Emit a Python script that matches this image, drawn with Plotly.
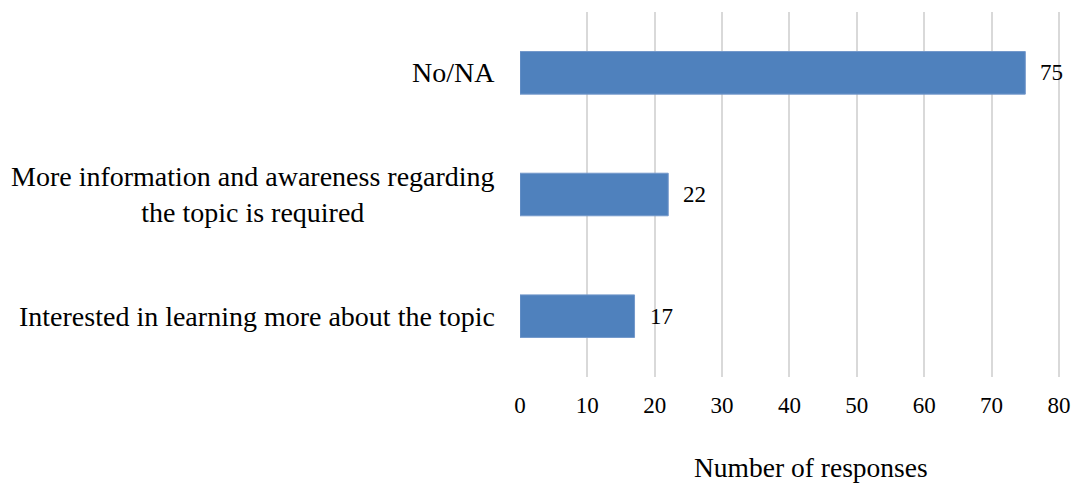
import plotly.graph_objects as go

categories = [
    "Interested in learning more about the topic",
    "More information and awareness regarding<br>the topic is required",
    "No/NA",
]
values = [17, 22, 75]
x_ticks = [0, 10, 20, 30, 40, 50, 60, 70, 80]
x_title = "Number of responses"

FONT = "Liberation Serif, Times New Roman, serif"
fig = go.Figure()
fig.add_trace(go.Bar(
    y=list(range(len(categories))),
    x=values,
    orientation="h",
    marker=dict(color="#4f81bd", line=dict(color="#7398cb", width=1)),
    width=0.35,
    hoverinfo="skip",
))

# category labels (centered multi-line)
for i, c in enumerate(categories):
    fig.add_annotation(x=0, xref="x", y=i, yref="y", text=c, showarrow=False,
                       xanchor="right", yanchor="middle", align="center",
                       xshift=-23, font=dict(family=FONT, size=28, color="#000"))
# value labels
for i, v in enumerate(values):
    fig.add_annotation(x=v, xref="x", y=i, yref="y", text=str(v), showarrow=False,
                       xanchor="left", yanchor="middle", xshift=13,
                       font=dict(family=FONT, size=23, color="#000"))

fig.add_annotation(x=0.539, xref="paper", y=-0.249, yref="paper", text=x_title,
                   yanchor="middle", showarrow=False,
                   font=dict(family=FONT, size=27.5, color="#000"))

fig.update_layout(
    width=1075, height=484,
    margin=dict(l=520, r=15, t=12, b=107, autoexpand=False),
    paper_bgcolor="white", plot_bgcolor="white",
    showlegend=False,
    font=dict(family=FONT, size=23, color="#000"),
    xaxis=dict(range=[0, 80.15], tickvals=x_ticks, showgrid=True, gridcolor="#d9d9d9",
               gridwidth=2, zeroline=False, showline=False, automargin=False,
               ticklabeloverflow="allow",
               ticklabelstandoff=12, tickfont=dict(family=FONT, size=23, color="#000")),
    yaxis=dict(range=[-0.5, 2.5], showticklabels=False, showgrid=False,
               zeroline=False, showline=False, automargin=False),
)
fig.write_html("out.html", config={"displayModeBar": False},
               post_script="document.body.style.margin='0';document.body.style.overflow='hidden';")
